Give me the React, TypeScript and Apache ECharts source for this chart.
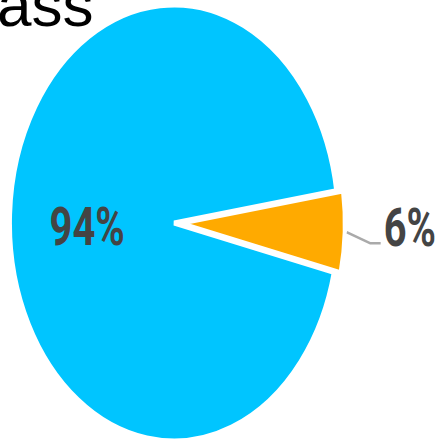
import React, { useEffect, useRef } from "react";
import * as echarts from "echarts";

const categories = ["Minor", "Major"];
const values = [6, 94];
const colors = ["#ffaa00", "#00c5ff"];
const exploded = [true, false];
const titleText = "ass";

const CX = 174;
const CY = 223;
const R = 218;
const SX = 0.752;
const START_DEG = -8.5; // screen-angle (clockwise) start of first slice
const OFFSET = 9;

export default function App() {
  const ref = useRef<HTMLDivElement>(null);
  useEffect(() => {
    document.body.style.margin = "0";
    const chart = echarts.init(ref.current!, null, { renderer: "svg" });
    const total = values.reduce((a, b) => a + b, 0);
    const option: any = {
      animation: false,
      backgroundColor: "#ffffff",
      title: {
        text: titleText,
        left: -3,
        top: -27,
        padding: 0,
        textStyle: {
          fontFamily: "'Liberation Sans', Arial, sans-serif",
          fontSize: 62,
          fontWeight: "normal",
          color: "#000000",
        },
      },
      series: [
        {
          type: "custom",
          coordinateSystem: "none",
          data: values.map((v, i) => ({ name: categories[i], value: v })),
          renderItem: (params: any, api: any) => {
            const i = params.dataIndex;
            const v = api.value(0);
            let cum = 0;
            for (let k = 0; k < i; k++) cum += values[k];
            const start = (START_DEG * Math.PI) / 180;
            const a0 = start + (cum / total) * Math.PI * 2;
            const a1 = start + ((cum + v) / total) * Math.PI * 2;
            const mid = (a0 + a1) / 2;
            const off = exploded[i] ? OFFSET : 0;
            const ox = off * Math.cos(mid);
            const oy = off * Math.sin(mid);
            const pct = Math.round((v / total) * 100) + "%";
            const children: any[] = [
              {
                type: "sector",
                shape: { cx: ox, cy: oy, r0: 0, r: R, startAngle: a0, endAngle: a1, clockwise: true },
                style: { fill: colors[i], stroke: "#ffffff", lineWidth: 5 },
              },
            ];
            const textStyle = {
              fontFamily: "Roboto",
              fontWeight: "bold",
              fontSize: 53,
              fill: "#444444",
            };
            if (exploded[i]) {
              const r0 = R + off + 3;
              const p0 = [r0 * Math.cos(mid), r0 * Math.sin(mid)];
              const p1 = [p0[0] + 31, p0[1] + 11];
              const p2 = [p1[0] + 14, p1[1]];
              children.push({
                type: "polyline",
                shape: { points: [p0, p1, p2] },
                style: { stroke: "#aaaaaa", lineWidth: 2.5, fill: null },
              });
              children.push({
                type: "text",
                style: {
                  ...textStyle,
                  text: pct,
                  x: p2[0] + 4,
                  y: p2[1] - 16,
                  align: "left",
                  verticalAlign: "middle",
                },
              });
            } else {
              const lr = R * 0.53;
              children.push({
                type: "text",
                style: {
                  ...textStyle,
                  text: pct,
                  x: lr * Math.cos(mid),
                  y: lr * Math.sin(mid) + 8,
                  align: "center",
                  verticalAlign: "middle",
                },
              });
            }
            return { type: "group", x: CX, y: CY, scaleX: SX, children };
          },
        },
      ],
    };
    chart.setOption(option);
    return () => chart.dispose();
  }, []);
  return <div ref={ref} style={{ width: 440, height: 443 }} />;
}
